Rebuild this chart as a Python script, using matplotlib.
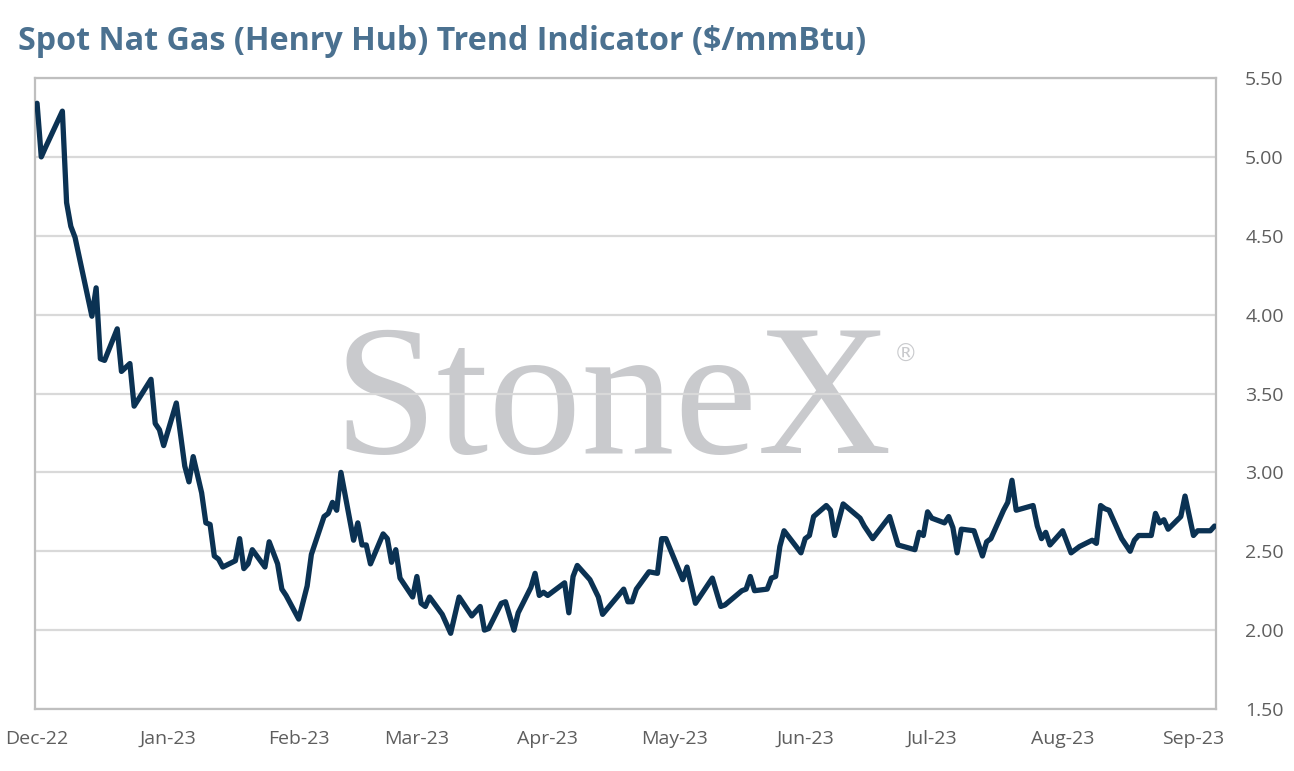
import pandas as pd
import matplotlib
matplotlib.use("Agg")
import matplotlib.pyplot as plt
import matplotlib.dates as mdates

# =====================================================
# Datos (vertices de la serie)
# =====================================================
fechas = [
    "2022-12-01", "2022-12-02", "2022-12-03", "2022-12-07", "2022-12-08", "2022-12-09",
    "2022-12-10", "2022-12-14", "2022-12-15", "2022-12-16", "2022-12-17", "2022-12-20",
    "2022-12-21", "2022-12-23", "2022-12-24", "2022-12-28", "2022-12-29", "2022-12-30",
    "2022-12-31", "2023-01-03", "2023-01-05", "2023-01-06", "2023-01-07", "2023-01-09",
    "2023-01-10", "2023-01-11", "2023-01-12", "2023-01-13", "2023-01-14", "2023-01-17",
    "2023-01-18", "2023-01-19", "2023-01-20", "2023-01-21", "2023-01-24", "2023-01-25",
    "2023-01-27", "2023-01-28", "2023-01-29", "2023-02-01", "2023-02-03", "2023-02-04",
    "2023-02-05", "2023-02-07", "2023-02-08", "2023-02-09", "2023-02-10", "2023-02-11",
    "2023-02-14", "2023-02-15", "2023-02-16", "2023-02-17", "2023-02-18", "2023-02-21",
    "2023-02-22", "2023-02-23", "2023-02-24", "2023-02-25", "2023-02-28", "2023-03-01",
    "2023-03-02", "2023-03-03", "2023-03-04", "2023-03-07", "2023-03-09", "2023-03-11",
    "2023-03-14", "2023-03-16", "2023-03-17", "2023-03-18", "2023-03-21", "2023-03-22",
    "2023-03-24", "2023-03-25", "2023-03-28", "2023-03-29", "2023-03-30", "2023-03-31",
    "2023-04-01", "2023-04-04", "2023-04-05", "2023-04-06", "2023-04-07", "2023-04-08",
    "2023-04-11", "2023-04-13", "2023-04-14", "2023-04-19", "2023-04-20", "2023-04-21",
    "2023-04-22", "2023-04-25", "2023-04-27", "2023-04-28", "2023-04-29", "2023-05-03",
    "2023-05-04", "2023-05-06", "2023-05-10", "2023-05-12", "2023-05-13", "2023-05-17",
    "2023-05-18", "2023-05-19", "2023-05-20", "2023-05-23", "2023-05-24", "2023-05-25",
    "2023-05-26", "2023-05-27", "2023-05-31", "2023-06-01", "2023-06-02", "2023-06-03",
    "2023-06-06", "2023-06-07", "2023-06-08", "2023-06-10", "2023-06-14", "2023-06-15",
    "2023-06-17", "2023-06-21", "2023-06-23", "2023-06-27", "2023-06-28", "2023-06-29",
    "2023-06-30", "2023-07-01", "2023-07-04", "2023-07-05", "2023-07-06", "2023-07-07",
    "2023-07-08", "2023-07-11", "2023-07-13", "2023-07-14", "2023-07-15", "2023-07-18",
    "2023-07-19", "2023-07-20", "2023-07-21", "2023-07-25", "2023-07-26", "2023-07-27",
    "2023-07-28", "2023-07-29", "2023-08-01", "2023-08-03", "2023-08-05", "2023-08-08",
    "2023-08-09", "2023-08-10", "2023-08-11", "2023-08-12", "2023-08-15", "2023-08-17",
    "2023-08-18", "2023-08-19", "2023-08-22", "2023-08-23", "2023-08-24", "2023-08-25",
    "2023-08-26", "2023-08-29", "2023-08-30", "2023-09-01", "2023-09-02", "2023-09-05",
    "2023-09-06",
]
precios = [
    5.34, 5.00, 5.06, 5.29, 4.71, 4.56,
    4.49, 3.99, 4.17, 3.72, 3.71, 3.91,
    3.64, 3.69, 3.42, 3.59, 3.31, 3.27,
    3.17, 3.44, 3.04, 2.94, 3.10, 2.87,
    2.68, 2.67, 2.47, 2.45, 2.40, 2.44,
    2.58, 2.39, 2.42, 2.51, 2.40, 2.56,
    2.42, 2.26, 2.22, 2.07, 2.28, 2.48,
    2.56, 2.72, 2.74, 2.81, 2.76, 3.00,
    2.57, 2.68, 2.54, 2.54, 2.42, 2.61,
    2.58, 2.43, 2.51, 2.33, 2.21, 2.34,
    2.17, 2.15, 2.21, 2.10, 1.98, 2.21,
    2.09, 2.15, 2.00, 2.01, 2.17, 2.18,
    2.00, 2.11, 2.27, 2.36, 2.22, 2.24,
    2.22, 2.28, 2.30, 2.11, 2.34, 2.41,
    2.32, 2.21, 2.10, 2.26, 2.18, 2.18,
    2.26, 2.37, 2.36, 2.58, 2.58, 2.32,
    2.40, 2.17, 2.33, 2.15, 2.16, 2.25,
    2.26, 2.34, 2.25, 2.26, 2.33, 2.34,
    2.53, 2.63, 2.49, 2.58, 2.60, 2.72,
    2.79, 2.76, 2.60, 2.80, 2.71, 2.66,
    2.58, 2.72, 2.54, 2.51, 2.62, 2.60,
    2.75, 2.71, 2.68, 2.72, 2.65, 2.49,
    2.64, 2.63, 2.47, 2.56, 2.58, 2.76,
    2.81, 2.95, 2.76, 2.79, 2.66, 2.58,
    2.62, 2.54, 2.63, 2.49, 2.53, 2.57,
    2.55, 2.79, 2.77, 2.76, 2.58, 2.50,
    2.57, 2.60, 2.60, 2.74, 2.68, 2.70,
    2.64, 2.72, 2.85, 2.60, 2.63, 2.63,
    2.66,
]

titulo = "Spot Nat Gas (Henry Hub) Trend Indicator ($/mmBtu)"
meses = pd.date_range("2022-12-01", "2023-09-01", freq="MS")
niveles_y = [1.50, 2.00, 2.50, 3.00, 3.50, 4.00, 4.50, 5.00, 5.50]

df = pd.DataFrame({"fecha": pd.to_datetime(fechas), "precio": precios})

# =====================================================
# Figura
# =====================================================
color_linea = "#0b3253"
color_titulo = "#4b7190"
color_texto = "#5e5e5e"
color_borde = "#bfbfbf"
color_grid = "#d9d9d9"

fig = plt.figure(figsize=(12.94, 7.71), dpi=100)
ax = fig.add_axes([0.027, 0.0804, 0.9127, 0.8184])

# marca de agua
ax.text(0.4893, 0.476, "StoneX", transform=ax.transAxes, ha="center", va="center",
        fontsize=134, family="Liberation Serif", color="#c9cacd", zorder=0)
ax.text(0.737, 0.561, "\u00ae", transform=ax.transAxes, ha="center", va="center",
        fontsize=17, family="DejaVu Sans", color="#c9cacd", zorder=0)

ax.plot(df["fecha"], df["precio"], color=color_linea, linewidth=3.8,
        solid_joinstyle="round", solid_capstyle="round", zorder=3)

ax.set_ylim(1.5, 5.5)
ax.set_yticks(niveles_y)
ax.set_yticklabels([f"{v:.2f}" for v in niveles_y])
ax.yaxis.tick_right()
ax.grid(axis="y", color=color_grid, linewidth=1.6, zorder=1)
ax.set_axisbelow(True)

ax.set_xlim(pd.Timestamp("2022-12-01") - pd.Timedelta(hours=12),
            pd.Timestamp("2023-09-06") + pd.Timedelta(hours=8))
ax.set_xticks(meses)
ax.xaxis.set_major_formatter(mdates.DateFormatter("%b-%y"))

ax.tick_params(axis="both", length=0, labelsize=14, labelcolor=color_texto)
ax.tick_params(axis="y", pad=21)
ax.tick_params(axis="x", pad=15)
for lab in ax.get_xticklabels() + ax.get_yticklabels():
    lab.set_family("Open Sans")

for s in ax.spines.values():
    s.set_color(color_borde)
    s.set_linewidth(1.6)

fig.text(0.014, 0.946, titulo, ha="left", va="center", fontsize=23.2,
         fontweight="bold", family="Open Sans", color=color_titulo)

fig.savefig("out.png", dpi=100)
